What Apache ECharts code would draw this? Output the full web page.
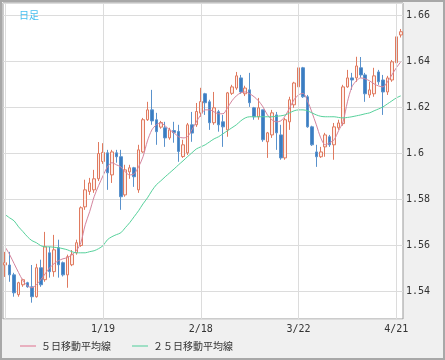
<!DOCTYPE html>
<html><head><meta charset="utf-8">
<script src="https://cdn.jsdelivr.net/npm/echarts/dist/echarts.min.js"></script>
<style>html,body{margin:0;padding:0;background:#f0f0f0}#c{width:445px;height:360px}</style>
</head><body><div id="c"></div>
<script>
const dates = ['12/18','12/21','12/22','12/23','12/24','12/25','12/28','12/29','12/30','12/31',
'1/1','1/4','1/5','1/6','1/7','1/8','1/11','1/12','1/13','1/14','1/15','1/18','1/19','1/20','1/21','1/22','1/25','1/26','1/27','1/28','1/29',
'2/1','2/2','2/3','2/4','2/5','2/8','2/9','2/10','2/11','2/12','2/15','2/16','2/17','2/18','2/19','2/22','2/23','2/24','2/25','2/26',
'3/1','3/2','3/3','3/4','3/5','3/8','3/9','3/10','3/11','3/12','3/15','3/16','3/17','3/18','3/19','3/22','3/23','3/24','3/25','3/26','3/29','3/30','3/31',
'4/1','4/2','4/5','4/6','4/7','4/8','4/9','4/12','4/13','4/14','4/15','4/16','4/19','4/20','4/21','4/22'];
const openV = [1.5515,1.5515,1.5472,1.5386,1.5429,1.5438,1.5420,1.5377,1.5503,1.5451,
1.5568,1.5486,1.5590,1.5525,1.5472,1.5516,1.5568,1.5600,1.5768,1.5835,
1.5842,1.5890,1.5965,1.6003,1.5907,1.6003,1.5986,1.5820,1.5920,1.5938,
1.5842,1.6007,1.6147,1.6190,1.6147,1.6115,1.6112,1.6068,1.6100,1.6096,
1.5987,1.6003,1.6125,1.6125,1.6176,1.6260,1.6225,1.6134,1.6182,1.6138,
1.6103,1.6262,1.6285,1.6329,1.6260,1.6277,1.6199,1.6160,1.6190,1.6051,
1.6081,1.6168,1.6081,1.5981,1.6138,1.6212,1.6290,1.6373,1.6247,1.6116,
1.6007,1.5986,1.6029,1.6073,1.6038,1.6112,1.6130,1.6290,1.6329,1.6329,
1.6373,1.6342,1.6255,1.6260,1.6355,1.6320,1.6268,1.6320,1.6395,1.6516];
const closeV = [1.5525,1.5472,1.5394,1.5438,1.5451,1.5420,1.5377,1.5503,1.5429,1.5594,
1.5486,1.5581,1.5516,1.5472,1.5551,1.5560,1.5612,1.5764,1.5842,1.5872,
1.5890,1.6000,1.6005,1.5916,1.6007,1.5986,1.5812,1.5929,1.5938,1.5899,
1.6016,1.6147,1.6190,1.6142,1.6095,1.6135,1.6068,1.6103,1.6091,1.6009,
1.6038,1.6125,1.6089,1.6183,1.6226,1.6221,1.6134,1.6199,1.6125,1.6116,
1.6264,1.6290,1.6338,1.6268,1.6285,1.6221,1.6160,1.6199,1.6060,1.6090,
1.6177,1.6090,1.5981,1.6147,1.6234,1.6307,1.6373,1.6247,1.6116,1.6038,
1.5986,1.6007,1.6081,1.6038,1.6116,1.6133,1.6290,1.6329,1.6320,1.6381,
1.6342,1.6260,1.6277,1.6338,1.6312,1.6268,1.6329,1.6399,1.6508,1.6530];
const lowV = [1.5463,1.5442,1.5377,1.5377,1.5420,1.5416,1.5351,1.5373,1.5420,1.5442,
1.5460,1.5464,1.5460,1.5465,1.5416,1.5510,1.5560,1.5594,1.5755,1.5820,
1.5829,1.5880,1.5955,1.5842,1.5872,1.5960,1.5755,1.5812,1.5890,1.5855,
1.5829,1.6003,1.6142,1.6125,1.6038,1.6108,1.6029,1.6060,1.6047,1.5964,
1.5981,1.5994,1.6051,1.6116,1.6160,1.6168,1.6103,1.6125,1.6095,1.6029,
1.6073,1.6255,1.6277,1.6260,1.6250,1.6203,1.6147,1.6147,1.6051,1.5981,
1.6068,1.6016,1.5973,1.5973,1.6103,1.6199,1.6286,1.6242,1.6112,1.6033,
1.5942,1.5981,1.5986,1.6029,1.5973,1.6103,1.6121,1.6286,1.6277,1.6312,
1.6330,1.6225,1.6242,1.6247,1.6299,1.6168,1.6255,1.6312,1.6390,1.6505];
const highV = [1.5572,1.5572,1.5481,1.5442,1.5455,1.5442,1.5515,1.5520,1.5538,1.5659,
1.5594,1.5646,1.5625,1.5530,1.5560,1.5580,1.5625,1.5770,1.5886,1.5894,
1.5929,1.6050,1.6045,1.6016,1.6016,1.6016,1.6016,1.5951,1.5951,1.5942,
1.6038,1.6155,1.6225,1.6277,1.6177,1.6142,1.6138,1.6112,1.6138,1.6125,
1.6060,1.6133,1.6181,1.6220,1.6286,1.6264,1.6234,1.6268,1.6190,1.6168,
1.6268,1.6299,1.6355,1.6342,1.6295,1.6351,1.6203,1.6242,1.6190,1.6094,
1.6190,1.6181,1.6125,1.6155,1.6247,1.6312,1.6399,1.6377,1.6255,1.6121,
1.6038,1.6029,1.6090,1.6081,1.6133,1.6147,1.6299,1.6364,1.6351,1.6421,
1.6420,1.6351,1.6312,1.6373,1.6364,1.6342,1.6338,1.6407,1.6594,1.6542];
const ma5 = [1.5593,1.5560,1.5521,1.5482,1.5447,1.5425,1.5416,1.5429,1.5451,1.5477,
1.5503,1.5521,1.5534,1.5542,1.5547,1.5560,1.5577,1.5612,1.5690,1.5747,
1.5812,1.5860,1.5903,1.5942,1.5960,1.5951,1.5942,1.5920,1.5907,1.5912,
1.5942,1.5986,1.6055,1.6103,1.6125,1.6133,1.6120,1.6103,1.6090,1.6073,
1.6068,1.6073,1.6103,1.6138,1.6168,1.6190,1.6190,1.6181,1.6173,1.6173,
1.6199,1.6229,1.6251,1.6264,1.6268,1.6260,1.6247,1.6229,1.6203,1.6168,
1.6147,1.6138,1.6142,1.6164,1.6199,1.6235,1.6255,1.6262,1.6230,1.6180,
1.6125,1.6068,1.6038,1.6047,1.6060,1.6099,1.6138,1.6225,1.6290,1.6316,
1.6329,1.6325,1.6316,1.6303,1.6294,1.6290,1.6312,1.6342,1.6373,1.6399];
const ma25 = [1.5734,1.5720,1.5707,1.5681,1.5660,1.5638,1.5621,1.5612,1.5599,1.5594,
1.5594,1.5592,1.5590,1.5586,1.5581,1.5573,1.5568,1.5568,1.5568,1.5573,
1.5577,1.5586,1.5599,1.5625,1.5638,1.5647,1.5655,1.5677,1.5699,1.5725,
1.5751,1.5781,1.5807,1.5838,1.5864,1.5881,1.5899,1.5916,1.5933,1.5951,
1.5968,1.5986,1.6003,1.6020,1.6029,1.6038,1.6051,1.6064,1.6073,1.6086,
1.6099,1.6112,1.6125,1.6142,1.6155,1.6160,1.6160,1.6160,1.6160,1.6160,
1.6160,1.6162,1.6164,1.6168,1.6177,1.6186,1.6190,1.6190,1.6186,1.6177,
1.6168,1.6162,1.6160,1.6160,1.6160,1.6157,1.6155,1.6157,1.6160,1.6164,
1.6168,1.6173,1.6177,1.6186,1.6194,1.6203,1.6216,1.6229,1.6242,1.6251];
const tickLabels = ['1/19','2/18','3/22','4/21'];
const gridDates = ['12/18','1/19','2/18','3/22','4/21'];
const seriesNames = ['５日移動平均線','２５日移動平均線'];

const candles = dates.map((d,i)=>[openV[i],closeV[i],lowV[i],highV[i]]);
const chart = echarts.init(document.getElementById('c'),null,{renderer:'canvas'});
const mono = 'DejaVu Sans Mono';
chart.setOption({
  animation:false,
  backgroundColor:'#f0f0f0',
  title:{text:'日足',left:14,top:5,textStyle:{fontSize:10,color:'#46bff0',fontWeight:'normal',fontFamily:'Noto Sans CJK JP'}},
  graphic:[{type:'rect',shape:{x:1,y:1,width:443,height:358},style:{fill:'none',stroke:'#a8a8a8',lineWidth:2},z:100}],
  legend:{data:seriesNames,left:15,top:336,icon:'rect',itemWidth:16,itemHeight:1,itemGap:21,
    textStyle:{fontFamily:'Noto Sans CJK JP',fontSize:10,color:'#333'}},
  grid:{left:3,right:42,top:3,bottom:41,show:true,backgroundColor:'#fff',borderColor:'#999',borderWidth:1},
  xAxis:{type:'category',data:dates,boundaryGap:true,
    axisLine:{show:false},axisTick:{show:false},splitLine:{show:false},
    axisLabel:{interval:(idx,val)=>tickLabels.includes(val),margin:5,fontFamily:mono,fontSize:10,color:'#333'}},
  yAxis:{type:'value',position:'right',min:1.528,max:1.6655,splitNumber:6,scale:true,
    axisLine:{show:false},axisTick:{show:false},
    splitLine:{lineStyle:{color:'#dcdcdc',width:1}},
    axisLabel:{margin:3,fontFamily:mono,fontSize:10,color:'#333',showMinLabel:false,showMaxLabel:false,
      formatter:v=>Math.abs(v*50-Math.round(v*50))<1e-6?String(+v.toFixed(2)):''}},
  series:[
    {type:'line',name:'_grid',data:dates.map(()=>null),z:1,silent:true,symbol:'none',
     markLine:{silent:true,symbol:['none','none'],label:{show:false},animation:false,
       lineStyle:{color:'#dcdcdc',width:1,type:'solid'},
       data:gridDates.map(d=>({xAxis:d}))}},
    {type:'candlestick',name:'日足',data:candles,barWidth:3,z:2,
     itemStyle:{color:'#fdeee9',color0:'#3a7dc2',borderColor:'#e07a5f',borderColor0:'#5a92cc',borderWidth:1}},
    {type:'line',name:seriesNames[0],data:ma5,smooth:0.3,symbol:'none',z:3,
     lineStyle:{color:'#d4849e',width:1},itemStyle:{color:'#e0708e'}},
    {type:'line',name:seriesNames[1],data:ma25,smooth:0.3,symbol:'none',z:3,
     lineStyle:{color:'#56d19b',width:1},itemStyle:{color:'#4fcf9a'}}
  ]
});
</script></body></html>
